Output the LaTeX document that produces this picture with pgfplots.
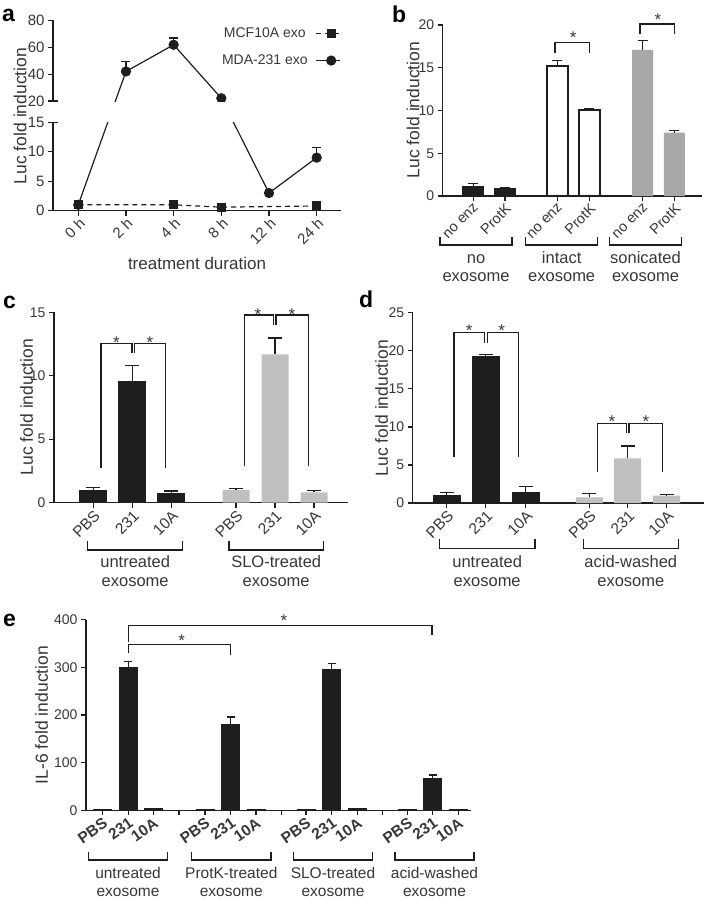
\documentclass[border=0pt]{standalone}
\usepackage{pgfplots}
\pgfplotsset{compat=1.18}
\usepackage{fontspec}
\setmainfont{Liberation Sans}

\definecolor{txt}{RGB}{55,55,55}
\definecolor{axc}{RGB}{30,30,30}
\definecolor{grayB}{RGB}{168,168,168}
\definecolor{grayC}{RGB}{192,192,192}

\pgfplotsset{
  gp/.style={
    scale only axis, clip=false, anchor=south west,
    axis x line*=bottom, axis y line*=left,
    axis line style={line width=1.3pt, axc},
    tick style={line width=1.3pt, axc},
    tick align=outside, major tick length=5pt,
    ticklabel style={font=\fontsize{14}{16}\selectfont, text=txt},
    xticklabel style={rotate=45, anchor=north east, inner sep=1pt},
    /pgf/number format/assume math mode=true,
  },
  errb/.style={error bars/.cd, y dir=plus, y explicit,
    error bar style={line width=1.3pt, axc},
    error mark options={rotate=90, line width=1.3pt, axc, mark size=#1}},
  ebar/.style={axc, line width=1.3pt, forget plot},
}

\begin{document}
\begin{tikzpicture}
\path[use as bounding box] (0pt,0pt) rectangle (706pt,-900pt);

% ---------- a: time course, broken y axis ----------
\begin{axis}[gp, at={(53pt,-210.7pt)}, width=288pt, height=190pt,
  xmin=-0.53, xmax=5.51, xtick={0,1,2,3,4,5},
  xticklabels={0 h,2 h,4 h,8 h,12 h,24 h},
  ticklabel style={font=\fontsize{15}{17}\selectfont},
  y coord trafo/.code={\pgfmathparse{ifthenelse(#1<=15, #1, ifthenelse(#1<=20, 15+(#1-15)*0.724, 18.62+(#1-20)*0.2267))}},
  ymin=0, ymax=80, ytick={0,5,10,15,20,40,60,80},
  yticklabels={0,5,10,15,20,40,60,80},
  y axis line style={draw=none},
  reverse legend, legend plot pos=right,
  legend style={draw=none, fill=none, at={(1.0,0.975)}, anchor=north east,
    font=\fontsize{14}{16}\selectfont, text=txt, row sep=12pt, inner sep=0pt,
    /tikz/every odd column/.style={column sep=6pt}},
  legend image code/.code={\draw[#1, mark=none] (0pt,0pt) -- (24pt,0pt);
    \draw[#1, solid] plot coordinates {(15pt,0pt)};},
]
% error bars (upper SEM) of the MDA-231 series
\addplot[ebar] coordinates {(1,42) (1,49.5)};
\addplot[ebar] coordinates {(2,62) (2,67)};
\addplot[ebar] coordinates {(3,22) (3,23.5)};
\addplot[ebar] coordinates {(5,9) (5,10.7)};
\addplot[ebar, only marks, mark=-, mark size=4.5pt, mark options={line width=1.3pt}]
  coordinates {(1,49.5) (2,67) (3,23.5) (5,10.7)};
\addplot[axc, line width=1.2pt, mark=*, mark size=4.5pt] coordinates {
  (0,1) (1,42) (2,62) (3,22) (4,3) (5,9)};
\addlegendentry{MDA-231 exo}
\addplot[axc, line width=1.2pt, dash pattern=on 5pt off 4pt, mark=square*,
  mark size=4pt, mark options={solid}] coordinates {
  (0,1) (2,1) (3,0.6) (5,0.8)};
\addlegendentry{MCF10A exo}
\end{axis}

% ---------- b ----------
\begin{axis}[gp, at={(442.7pt,-196pt)}, width=259pt, height=171pt,
  xmin=442.7, xmax=701.7, ymin=0, ymax=20, ytick={0,5,10,15,20},
  xtick={473.3,505,557.3,589.3,642.7,674.3},
  xticklabels={no enz,ProtK,no enz,ProtK,no enz,ProtK},
  xticklabel style={font=\fontsize{14.5}{16}\selectfont},
]
\addplot[ybar, bar width=21, fill=axc, draw=axc, line width=1pt, errb=5pt] coordinates {
  (473.3,1.09) +- (0,0.39) (505,0.82) +- (0,0.12)};
\addplot[ybar, bar width=21, fill=white, draw=axc, line width=1.5pt, errb=5pt] coordinates {
  (557.3,15.2) +- (0,0.67) (589.3,10.06) +- (0,0.14)};
\addplot[ybar, bar width=21, fill=grayB, draw=none, errb=5pt] coordinates {
  (642.7,17.08) +- (0,1.09) (674.3,7.4) +- (0,0.28)};
\end{axis}

% ---------- c ----------
\begin{axis}[gp, at={(54pt,-502.7pt)}, width=294pt, height=190.4pt,
  xmin=54, xmax=348, ymin=0, ymax=15, ytick={0,5,10,15},
  xtick={93.3,132.3,171.3,236,275,314},
  xticklabels={PBS,231,10A,PBS,231,10A},
  xticklabel style={font=\fontsize{15.5}{17}\selectfont},
]
\addplot[ybar, bar width=27, fill=axc, draw=axc, line width=1pt, errb=7pt] coordinates {
  (93.3,1.0) +- (0,0.18) (132.3,9.51) +- (0,1.31) (171.3,0.74) +- (0,0.18)};
\addplot[ybar, bar width=27, fill=grayC, draw=none, errb=7pt] coordinates {
  (236,1.0) +- (0,0.13) (275,11.69) +- (0,1.29) (314,0.81) +- (0,0.14)};
\end{axis}

% ---------- d ----------
\begin{axis}[gp, at={(412.7pt,-503pt)}, width=291.6pt, height=190.3pt,
  xmin=412.7, xmax=704.3, ymin=0, ymax=25, ytick={0,5,10,15,20,25},
  xtick={446.7,485.7,525.7,589.3,627.7,666.7},
  xticklabels={PBS,231,10A,PBS,231,10A},
  xticklabel style={font=\fontsize{15.5}{17}\selectfont},
]
\addplot[ybar, bar width=27, fill=axc, draw=axc, line width=1pt, errb=7pt] coordinates {
  (446.7,1.05) +- (0,0.35) (485.7,19.22) +- (0,0.31) (525.7,1.44) +- (0,0.71)};
\addplot[ybar, bar width=27, fill=grayC, draw=none, errb=7pt] coordinates {
  (589.3,0.74) +- (0,0.49) (627.7,5.87) +- (0,1.62) (666.7,0.96) +- (0,0.18)};
\end{axis}

% ---------- e ----------
\begin{axis}[gp, at={(86pt,-810.3pt)}, width=385pt, height=190.6pt,
  xmin=86, xmax=471, ymin=0, ymax=400, ytick={0,100,200,300,400},
  xtick={102.7,128.3,153.3,205,230.7,256,306,331.7,357.3,407.7,432.7,458.3},
  xticklabels={PBS,231,10A,PBS,231,10A,PBS,231,10A,PBS,231,10A},
  extra x ticks={179,281.5,382.7}, extra x tick labels={},
  xticklabel style={rotate=-10, font=\bfseries\fontsize{15.5}{17}\selectfont},
]
\addplot[ybar, bar width=18, fill=axc, draw=axc, line width=1pt, errb=4pt] coordinates {
  (128.3,300) +- (0,12) (230.7,180) +- (0,16) (331.7,296) +- (0,11.5) (432.7,67) +- (0,7)};
\addplot[ybar, bar width=18, fill=axc, draw=axc, line width=1pt] coordinates {
  (102.7,1) (153.3,3) (205,1) (256,2.5) (306,1) (357.3,3) (407.7,1) (458.3,2.5)};
\end{axis}

% ---------- annotations ----------
\begin{scope}[x=1pt, y=-1pt, text=txt,
  br/.style={line width=1.4pt, axc},
  star/.style={anchor=base, inner sep=0pt, font=\fontsize{17}{18}\selectfont},
  grp/.style={anchor=base, inner sep=0pt, font=\fontsize{16.5}{18}\selectfont},
  grpe/.style={anchor=base, inner sep=0pt, font=\fontsize{15.5}{17}\selectfont},
  ylab/.style={rotate=90, font=\fontsize{17.5}{19}\selectfont},
  plab/.style={anchor=base west, inner sep=0pt, text=black, font=\bfseries\fontsize{23}{25}\selectfont}]
% panel letters
\node[plab] at (2,21) {a};
\node[plab] at (392,22) {b};
\node[plab] at (3,308) {c};
\node[plab] at (359,307) {d};
\node[plab] at (3,626) {e};
% y labels
\node[ylab] at (20,116) {Luc fold induction};
\node[ylab] at (413,110) {Luc fold induction};
\node[ylab] at (26.7,407) {Luc fold induction};
\node[ylab] at (381.7,408) {Luc fold induction};
\node[ylab] at (41.7,715) {IL-6 fold induction};

% a: axis break
\fill[white] (54,101.8) rectangle (345,121.5);
\draw[br, line width=1.3pt] (53,211.3) -- (53,122.3) (48,122.3) -- (58,122.3)
  (53,101) -- (53,20.1) (53,101) -- (58,101);
\node[anchor=base, font=\fontsize{17}{19}\selectfont] at (197,269) {treatment duration};

% b
\draw[br] (555,53.3) -- (555,42.3) -- (589.3,42.3) -- (589.3,53.3);
\node[star] at (573.3,43.3) {*};
\draw[br] (640,34.3) -- (640,24) -- (674.3,24) -- (674.3,34.3);
\node[star] at (658,25.7) {*};
\draw[br] (440,237) -- (440,245) -- (512,245) -- (512,237);
\draw[br] (525.7,237) -- (525.7,245) -- (597.7,245) -- (597.7,237);
\draw[br] (609.3,237) -- (609.3,245) -- (681.7,245) -- (681.7,237);
\node[grp] at (476,263) {no};
\node[grp] at (476,281.7) {exosome};
\node[grp] at (561.7,263) {intact};
\node[grp] at (561.7,281.7) {exosome};
\node[grp] at (645.5,263) {sonicated};
\node[grp] at (645.5,281.7) {exosome};

% c
\draw[br] (101,468.3) -- (101,343.3) -- (132,343.3) -- (132,353.3);
\draw[br] (134.5,353.3) -- (134.5,343.3) -- (165.7,343.3) -- (165.7,468.3);
\node[star] at (116.5,348) {*};
\node[star] at (150,348) {*};
\draw[br] (244.3,465.7) -- (244.3,315) -- (273.3,315) -- (273.3,325);
\draw[br] (276,325) -- (276,315) -- (308.3,315) -- (308.3,465.7);
\node[star] at (258,320) {*};
\node[star] at (292,320) {*};
\draw[br] (87.7,540.7) -- (87.7,550) -- (182.7,550) -- (182.7,540.7);
\draw[br] (229,540.7) -- (229,550) -- (323.3,550) -- (323.3,540.7);
\node[grp] at (135.2,567) {untreated};
\node[grp] at (135.2,586) {exosome};
\node[grp] at (276.2,567) {SLO-treated};
\node[grp] at (276.2,586) {exosome};

% d
\draw[br] (454,456.7) -- (454,332.3) -- (484.3,332.3) -- (484.3,342.7);
\draw[br] (487.3,342.7) -- (487.3,332.3) -- (518.3,332.3) -- (518.3,456.7);
\node[star] at (469.3,336.7) {*};
\node[star] at (501.7,336.7) {*};
\draw[br] (597.3,472.3) -- (597.3,423.3) -- (626.7,423.3) -- (626.7,433.3);
\draw[br] (629,433.3) -- (629,423.3) -- (662.3,423.3) -- (662.3,472.3);
\node[star] at (612,427.3) {*};
\node[star] at (646,427.3) {*};
\draw[br] (439.3,539.3) -- (439.3,548.3) -- (535,548.3) -- (535,539.3);
\draw[br] (583.3,539.3) -- (583.3,548.3) -- (678.3,548.3) -- (678.3,539.3);
\node[grp] at (487.2,567) {untreated};
\node[grp] at (487.2,586) {exosome};
\node[grp] at (630.8,567) {acid-washed};
\node[grp] at (630.8,586) {exosome};

% e
\draw[br] (128.3,653) -- (128.3,644.3) -- (230.7,644.3) -- (230.7,655);
\node[star] at (181.7,646) {*};
\draw[br] (128.3,641.7) -- (128.3,625.5) -- (432,625.5) -- (432,635);
\node[star] at (284,626) {*};
\draw[br] (88.3,851.7) -- (88.3,860) -- (167.7,860) -- (167.7,851.7);
\draw[br] (191.7,851.7) -- (191.7,860) -- (271,860) -- (271,851.7);
\draw[br] (293.3,851.7) -- (293.3,860) -- (372.7,860) -- (372.7,851.7);
\draw[br] (395,851.7) -- (395,860) -- (474,860) -- (474,851.7);
\node[grpe] at (128,878) {untreated};
\node[grpe] at (128,896) {exosome};
\node[grpe] at (231.3,878) {ProtK-treated};
\node[grpe] at (231.3,896) {exosome};
\node[grpe] at (333,878) {SLO-treated};
\node[grpe] at (333,896) {exosome};
\node[grpe] at (434.5,878) {acid-washed};
\node[grpe] at (434.5,896) {exosome};
\end{scope}
\end{tikzpicture}
\end{document}
